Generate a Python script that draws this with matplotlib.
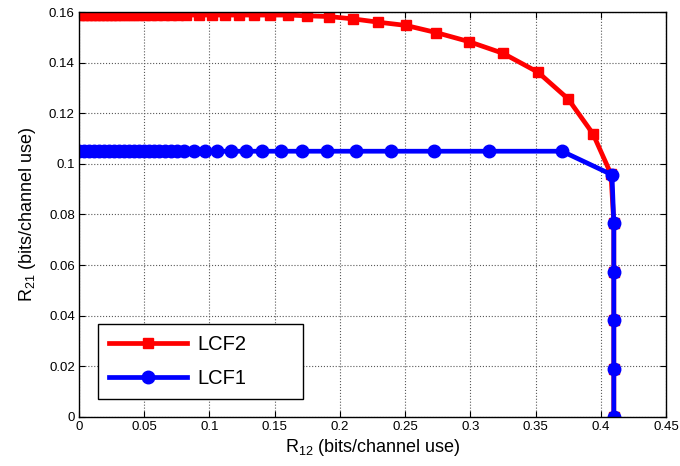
import matplotlib
matplotlib.use('Agg')
import matplotlib.pyplot as plt
from matplotlib.ticker import FuncFormatter

plt.rcParams['font.family'] = ['Liberation Sans', 'DejaVu Sans']
plt.rcParams['mathtext.default'] = 'regular'

# LCF2 (red squares)
lcf2_r12 = [0.0, 0.0031, 0.0061, 0.0092, 0.0123, 0.0153, 0.0184, 0.0215, 0.0245,
            0.0276, 0.0307, 0.0345, 0.0383, 0.0422, 0.046, 0.0506, 0.0552, 0.0598,
            0.0652, 0.0705, 0.0759, 0.082, 0.092, 0.102, 0.1119, 0.1227, 0.1342,
            0.1464, 0.1602, 0.1748, 0.1917, 0.21, 0.2292, 0.2507, 0.2737, 0.299,
            0.325, 0.3519, 0.3749, 0.394, 0.4078, 0.41, 0.41, 0.41, 0.41, 0.41]
lcf2_r21 = [0.1588] * 28 + [0.1588, 0.1585, 0.1582, 0.1573, 0.156, 0.1547, 0.1519,
                            0.1483, 0.1437, 0.1362, 0.1257, 0.1119, 0.096,
                            0.0765, 0.0574, 0.0383, 0.0191, 0.0]

# LCF1 (blue circles)
lcf1_r12 = [0.0, 0.0038, 0.0077, 0.0115, 0.0153, 0.0192, 0.023, 0.0268, 0.0307,
            0.0345, 0.0383, 0.0422, 0.046, 0.0498, 0.0537, 0.0575, 0.0613, 0.0659,
            0.0705, 0.0751, 0.0805, 0.0882, 0.0966, 0.1058, 0.1165, 0.128, 0.1403,
            0.1549, 0.171, 0.19, 0.2124, 0.2392, 0.2722, 0.3143, 0.3703, 0.4086,
            0.41, 0.41, 0.41, 0.41, 0.41]
lcf1_r21 = [0.105] * 35 + [0.0957, 0.0765, 0.0574, 0.0383, 0.0191, 0.0]

xticks = [0, 0.05, 0.1, 0.15, 0.2, 0.25, 0.3, 0.35, 0.4, 0.45]
yticks = [0, 0.02, 0.04, 0.06, 0.08, 0.1, 0.12, 0.14, 0.16]

fig = plt.figure(figsize=(6.8, 4.66), dpi=100)
ax = fig.add_axes([0.1162, 0.1052, 0.8632, 0.869])

ax.plot(lcf2_r12, lcf2_r21, color='red', lw=3.4, marker='s', markersize=7.5, label='LCF2')
ax.plot(lcf1_r12, lcf1_r21, color='blue', lw=3.4, marker='o', markersize=9, label='LCF1')

ax.set_xlim(0, 0.45)
ax.set_ylim(0, 0.16)
ax.set_xticks(xticks)
ax.set_yticks(yticks)
fmt = FuncFormatter(lambda v, p: '%g' % round(v, 4))
ax.xaxis.set_major_formatter(fmt)
ax.yaxis.set_major_formatter(fmt)
ax.tick_params(direction='in', top=True, right=True, labelsize=9.5, length=4, pad=3)
ax.grid(True, linestyle=':', color='0.35', lw=0.8)
for s in ax.spines.values():
    s.set_linewidth(1)

ax.set_xlabel('R$_{12}$ (bits/channel use)', fontsize=13, labelpad=3)
ax.set_ylabel('R$_{21}$ (bits/channel use)', fontsize=13, labelpad=8)

leg = ax.legend(loc='lower left', bbox_to_anchor=(0.032, 0.044, 0.349, 0.183),
                mode='expand', borderaxespad=0,
                fontsize=14.5, handlelength=3.9, handletextpad=0.5, borderpad=0.55,
                labelspacing=0.75, fancybox=False, framealpha=1, edgecolor='black')
leg.get_frame().set_linewidth(1)

fig.savefig('out.png', dpi=100)
